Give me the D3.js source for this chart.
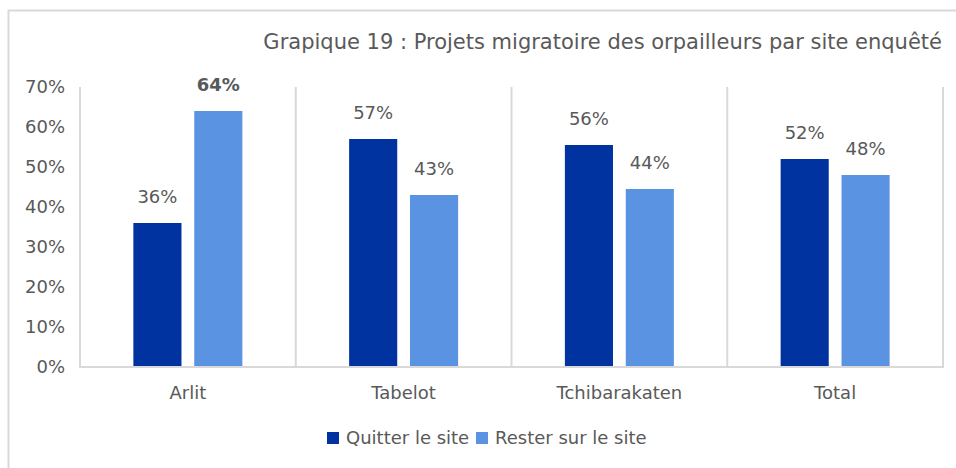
<!DOCTYPE html>
<html lang="fr">
<head>
<meta charset="utf-8">
<title>Grapique 19</title>
<script src="https://cdn.jsdelivr.net/npm/d3@7"></script>
<style>
  body { margin: 0; background: #fff; }
  svg text { font-family: "DejaVu Sans", Verdana, sans-serif; fill: #595959; }
</style>
</head>
<body>
<div id="chart"></div>
<script>
var categories = ["Arlit", "Tabelot", "Tchibarakaten", "Total"];
var seriesNames = ["Quitter le site", "Rester sur le site"];
var quitter = [0.36, 0.57, 0.555, 0.52];
var rester = [0.64, 0.43, 0.445, 0.48];
var quitterLabels = ["36%", "57%", "56%", "52%"];
var resterLabels = ["64%", "43%", "44%", "48%"];
var yTicks = [0, 0.1, 0.2, 0.3, 0.4, 0.5, 0.6, 0.7];
var colors = ["#0033a0", "#5b93e3"];

var width = 956, height = 468;
var plot = { left: 80, right: 943, top: 87, bottom: 367 };
var fs = "18px";

var svg = d3.select("#chart").append("svg")
  .attr("width", width)
  .attr("height", height);

// frame of the chart area (cropped on the right and bottom)
svg.append("path")
  .attr("d", "M8.5," + height + " V10.5 H" + width)
  .attr("fill", "none")
  .attr("stroke", "#d9d9d9")
  .attr("stroke-width", 2);

svg.append("text")
  .attr("x", 942)
  .attr("y", 49)
  .attr("text-anchor", "end")
  .style("font-size", "21px")
  .text("Grapique 19 : Projets migratoire des orpailleurs par site enquêté");

var x0 = d3.scaleBand()
  .domain(categories)
  .range([plot.left, plot.right])
  .padding(0);

var groupW = 109;
var x1 = d3.scaleBand()
  .domain(seriesNames)
  .range([(x0.bandwidth() - groupW) / 2, (x0.bandwidth() + groupW) / 2])
  .paddingInner(0.21);

var y = d3.scaleLinear()
  .domain([0, 0.7])
  .range([plot.bottom, plot.top]);

// y tick labels
svg.append("g").selectAll("text")
  .data(yTicks)
  .enter().append("text")
  .attr("x", 65)
  .attr("y", function(d) { return y(d); })
  .attr("dy", "0.35em")
  .attr("text-anchor", "end")
  .style("font-size", fs)
  .text(d3.format(".0%"));

// vertical separators between categories
var seps = categories.map(function(c) { return x0(c); }).concat([plot.right]);
svg.append("g").selectAll("line")
  .data(seps)
  .enter().append("line")
  .attr("x1", function(d) { return d; })
  .attr("x2", function(d) { return d; })
  .attr("y1", plot.top)
  .attr("y2", plot.bottom)
  .attr("stroke", "#d9d9d9")
  .attr("stroke-width", 2);

var rows = categories.map(function(c, i) {
  return { cat: c, vals: [
    { s: seriesNames[0], v: quitter[i], label: quitterLabels[i], bold: false },
    { s: seriesNames[1], v: rester[i], label: resterLabels[i], bold: c === "Arlit" }
  ] };
});

var groups = svg.append("g").selectAll("g")
  .data(rows)
  .enter().append("g")
  .attr("transform", function(d) { return "translate(" + x0(d.cat) + ",0)"; });

groups.selectAll("rect")
  .data(function(d) { return d.vals; })
  .enter().append("rect")
  .attr("x", function(d) { return x1(d.s); })
  .attr("y", function(d) { return y(d.v); })
  .attr("width", x1.bandwidth())
  .attr("height", function(d) { return plot.bottom - y(d.v); })
  .attr("fill", function(d, i) { return colors[i]; });

groups.selectAll("text")
  .data(function(d) { return d.vals; })
  .enter().append("text")
  .attr("x", function(d) { return x1(d.s) + x1.bandwidth() / 2; })
  .attr("y", function(d) { return y(d.v) - 20; })
  .attr("text-anchor", "middle")
  .style("font-size", fs)
  .style("font-weight", function(d) { return d.bold ? "bold" : "normal"; })
  .text(function(d) { return d.label; });

// baseline
svg.append("line")
  .attr("x1", plot.left - 1)
  .attr("x2", plot.right + 1)
  .attr("y1", plot.bottom)
  .attr("y2", plot.bottom)
  .attr("stroke", "#d9d9d9")
  .attr("stroke-width", 2);

// category labels
svg.append("g").selectAll("text")
  .data(categories)
  .enter().append("text")
  .attr("x", function(d) { return x0(d) + x0.bandwidth() / 2; })
  .attr("y", 399)
  .attr("text-anchor", "middle")
  .style("font-size", fs)
  .text(function(d) { return d; });

// legend
var legendX = [327, 476];
var legend = svg.append("g").selectAll("g")
  .data(seriesNames)
  .enter().append("g")
  .attr("transform", function(d, i) { return "translate(" + legendX[i] + ",432)"; });

legend.append("rect")
  .attr("width", 12)
  .attr("height", 12)
  .attr("fill", function(d, i) { return colors[i]; });

legend.append("text")
  .attr("x", 19)
  .attr("y", 6)
  .attr("dy", "0.35em")
  .style("font-size", fs)
  .text(function(d) { return d; });
</script>
</body>
</html>
